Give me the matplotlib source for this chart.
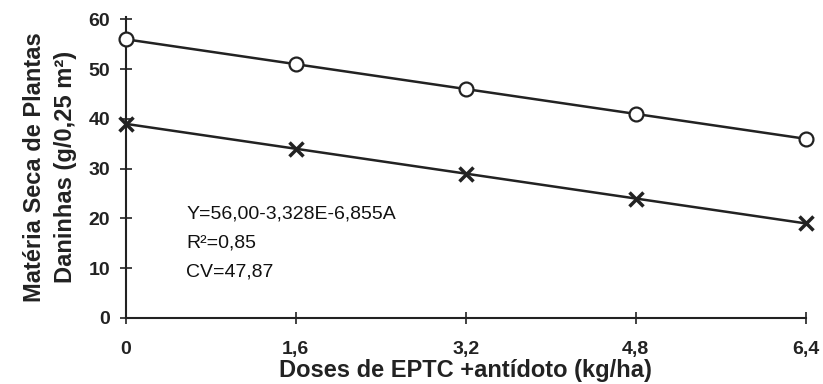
import numpy as np
import matplotlib
matplotlib.use("Agg")
import matplotlib.pyplot as plt

# ================================
# DATA
# ================================
doses = [0, 1.6, 3.2, 4.8, 6.4]
dose_labels = ["0", "1,6", "3,2", "4,8", "6,4"]
circles = [56, 51, 46, 41, 36]
crosses = [39, 34, 29, 24, 19]
y_ticks = [0, 10, 20, 30, 40, 50, 60]

eq_lines = ["Y=56,00-3,328E-6,855A", "R\u00b2=0,85", "CV=47,87"]

plt.rcParams["font.family"] = ["Liberation Sans", "DejaVu Sans"]
ink = "#222222"

fig = plt.figure(figsize=(8.23, 3.84), dpi=100)
ax = fig.add_axes([0.153, 0.172, 0.826, 0.784])

ax.plot(doses, circles, color=ink, linewidth=1.8, marker="o", markersize=10,
        markerfacecolor="white", markeredgecolor=ink, markeredgewidth=1.6,
        clip_on=False, zorder=3)
ax.plot(doses, crosses, color=ink, linewidth=1.8, marker="x", markersize=10,
        markeredgewidth=2.5, markeredgecolor=ink, clip_on=False, zorder=3)

ax.set_xlim(0, 6.4)
ax.set_ylim(0, 60.5)
ax.set_xticks(doses)
ax.set_xticklabels(dose_labels)
ax.set_yticks(y_ticks)

for s in ["top", "right"]:
    ax.spines[s].set_visible(False)
for s in ["left", "bottom"]:
    ax.spines[s].set_color(ink)
    ax.spines[s].set_linewidth(1.5)

ax.tick_params(axis="both", direction="inout", length=9, width=1.2, colors=ink,
               labelsize=14)
ax.tick_params(axis="y", pad=7)
ax.tick_params(axis="x", pad=12)
for lab in ax.get_xticklabels() + ax.get_yticklabels():
    lab.set_fontweight("bold")

ax.set_xlabel("Doses de EPTC +antídoto (kg/ha)", fontsize=17, fontweight="bold",
              color=ink, labelpad=1)
ax.set_ylabel("Matéria Seca de Plantas\nDaninhas (g/0,25 m\u00b2)", fontsize=17,
              fontweight="bold", color=ink, labelpad=8, linespacing=1.45)

for i, line in enumerate(eq_lines):
    ax.text(0.57, 20.8 - i * 5.8, line, fontsize=14, color="#111111",
            ha="left", va="center")

fig.savefig("out.png", dpi=100)
